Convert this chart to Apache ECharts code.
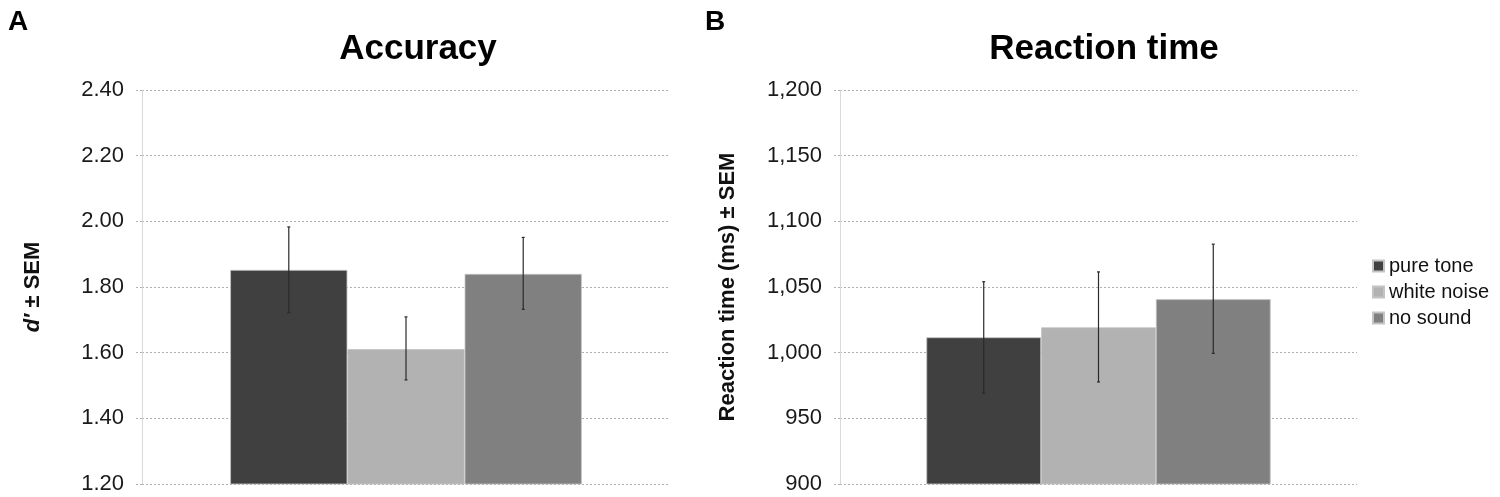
<!DOCTYPE html>
<html><head><meta charset="utf-8">
<script src="https://cdn.jsdelivr.net/npm/echarts@6/dist/echarts.min.js"></script>
<style>html,body{margin:0;padding:0;background:#fff}#c{width:1500px;height:497px}</style>
</head><body><div id="c"></div>
<script>
const conditions = ['pure tone', 'white noise', 'no sound'];
const colors = ['#404040', '#b2b2b2', '#808080'];
const accMean = [1.852, 1.611, 1.840];
const accLow = [1.722, 1.517, 1.732];
const accHigh = [1.983, 1.709, 1.951];
const rtMean = [1011.7, 1019.3, 1040.7];
const rtLow = [969.1, 977.7, 999.5];
const rtHigh = [1054.0, 1061.5, 1082.6];
const accTicks = {min: 1.2, max: 2.4, interval: 0.2};
const rtTicks = {min: 900, max: 1200, interval: 50};

const FONT = 'Liberation Sans, Arial, sans-serif';
const GAP = 0.334;

const chart = echarts.init(document.getElementById('c'));

function yAxisCfg(idx, t, fmt, name, nameGap, rich) {
  return {
    type: 'value', gridIndex: idx, min: t.min, max: t.max, interval: t.interval,
    axisLine: {show: true, lineStyle: {color: '#d9d9d9', width: 1}},
    axisTick: {show: true, length: 6, lineStyle: {color: '#b0b0b0', type: [2, 2]}},
    splitLine: {show: true, lineStyle: {color: '#b0b0b0', type: [2, 2], width: 1}},
    axisLabel: {formatter: fmt, fontSize: 22, color: '#1a1a1a', fontFamily: FONT, margin: 18},
    name: name, nameLocation: 'middle', nameGap: nameGap,
    nameTextStyle: {fontSize: 22, fontWeight: 'bold', color: '#111', fontFamily: FONT, rich: rich}
  };
}

function barSeries(gi, means) {
  return conditions.map((c, i) => ({
    type: 'bar', name: c, xAxisIndex: gi, yAxisIndex: gi,
    data: [means[i]], barGap: '0%', barCategoryGap: (GAP * 100) + '%',
    itemStyle: {color: colors[i], borderColor: '#c4c4c4', borderWidth: 0.8},
    emphasis: {disabled: true}, z: 2
  }));
}

function errSeries(gi, low, high) {
  return {
    type: 'custom', xAxisIndex: gi, yAxisIndex: gi, z: 5, silent: true,
    data: conditions.map((c, i) => [0, low[i], high[i], i]),
    renderItem: function (params, api) {
      const band = api.size([1, 0])[0];
      const bw = band * (1 - GAP) / conditions.length;
      const i = api.value(3);
      const pLo = api.coord([0, api.value(1)]);
      const pHi = api.coord([0, api.value(2)]);
      const x = pLo[0] + (i - (conditions.length - 1) / 2) * bw;
      const st = {stroke: '#2a2a2a', lineWidth: 1.2};
      return {type: 'group', children: [
        {type: 'line', shape: {x1: x, y1: pLo[1], x2: x, y2: pHi[1]}, style: st},
        {type: 'line', shape: {x1: x - 1.5, y1: pLo[1], x2: x + 1.5, y2: pLo[1]}, style: st},
        {type: 'line', shape: {x1: x - 1.5, y1: pHi[1], x2: x + 1.5, y2: pHi[1]}, style: st}
      ]};
    }
  };
}

const xCfg = (gi) => ({
  type: 'category', gridIndex: gi, data: [''],
  axisLine: {show: false}, axisTick: {show: false}, axisLabel: {show: false}
});

chart.setOption({
  animation: false,
  textStyle: {fontFamily: FONT},
  title: [
    {text: 'A', left: 3, top: 3, textStyle: {fontSize: 28, fontWeight: 'bold', color: '#000', fontFamily: FONT}},
    {text: 'B', left: 700, top: 3, textStyle: {fontSize: 28, fontWeight: 'bold', color: '#000', fontFamily: FONT}},
    {text: 'Accuracy', left: 413, top: 27, textAlign: 'center', textStyle: {fontSize: 35, fontWeight: 'bold', color: '#000', fontFamily: FONT}},
    {text: 'Reaction time', left: 1099, top: 27, textAlign: 'center', textStyle: {fontSize: 35, fontWeight: 'bold', color: '#000', fontFamily: FONT}}
  ],
  legend: {
    orient: 'vertical', left: 1367, top: 251, itemWidth: 11, itemHeight: 11, itemGap: 6,
    icon: 'rect', data: conditions,
    textStyle: {fontSize: 20, color: '#111', fontFamily: FONT}
  },
  grid: [
    {left: 142, right: 830, top: 90, bottom: 13},
    {left: 840, right: 143, top: 90, bottom: 13}
  ],
  xAxis: [xCfg(0), xCfg(1)],
  yAxis: [
    yAxisCfg(0, accTicks, v => v.toFixed(2), '{i|d′} ± SEM', 98, {i: {fontStyle: 'italic', fontWeight: 'bold', fontSize: 22, fontFamily: FONT, color: '#111'}}),
    yAxisCfg(1, rtTicks, v => v.toLocaleString('en-US'), 'Reaction time (ms) ± SEM', 101)
  ],
  series: [
    ...barSeries(0, accMean), errSeries(0, accLow, accHigh),
    ...barSeries(1, rtMean), errSeries(1, rtLow, rtHigh)
  ]
});
</script></body></html>
